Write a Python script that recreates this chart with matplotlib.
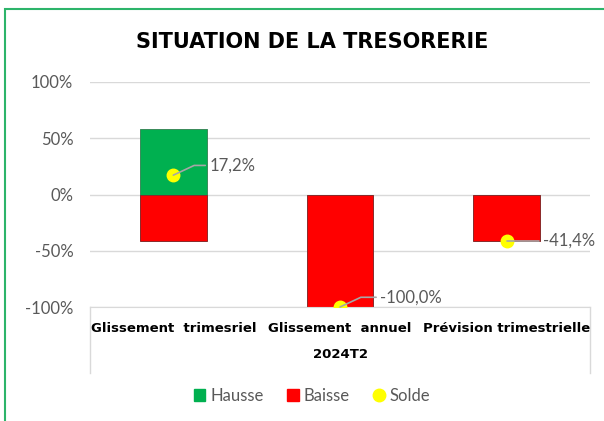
import matplotlib
matplotlib.use("Agg")
import matplotlib.pyplot as plt
from matplotlib.patches import Patch, Rectangle
from matplotlib.lines import Line2D

categories = ["Glissement  trimesriel", "Glissement  annuel", "Prévision trimestrielle"]
group_label = "2024T2"
hausse = [58.6, 0.0, 0.0]
baisse = [-41.4, -100.0, -41.4]
solde = [17.2, -100.0, -41.4]
solde_labels = ["17,2%", "-100,0%", "-41,4%"]
yticks = [-100, -50, 0, 50, 100]

GREEN = "#00B050"
RED = "#FF0000"
YELLOW = "#FFFF00"
GRAY_TXT = "#595959"
GRID = "#D9D9D9"

fig = plt.figure(figsize=(6.04, 4.21), dpi=100)
ax = fig.add_axes([90 / 604, 1 - 307 / 421, 500 / 604, 225 / 421])

x = range(len(categories))
ax.bar(x, hausse, width=0.4, color=GREEN, edgecolor="#3a8a5a", linewidth=0.7, zorder=2)
ax.bar(x, baisse, width=0.4, color=RED, edgecolor="#8a2a2a", linewidth=0.7, zorder=2)
ax.plot(x, solde, linestyle="none", marker="o", markersize=9,
        markerfacecolor=YELLOW, markeredgecolor=YELLOW, zorder=4)

# data labels with leader lines
offsets = [(26, 7), (29, 7), (26, 0)]
for i, (v, lab) in enumerate(zip(solde, solde_labels)):
    dx, dy = offsets[i]
    ax.annotate(lab, xy=(i, v), xytext=(dx, dy), textcoords="offset points",
                ha="left", va="center", fontsize=12, color=GRAY_TXT,
                family="Lato", zorder=5, annotation_clip=False,
                arrowprops=dict(arrowstyle="-", color="#A6A6A6", lw=1.2,
                                relpos=(0, 0.5), shrinkA=1, shrinkB=0,
                                connectionstyle="angle,angleA=0,angleB=25,rad=0"))

ax.set_xlim(-0.5, 2.5)
ax.set_ylim(-100, 100)
ax.set_yticks(yticks)
ax.set_yticklabels([f"{t}%" for t in yticks], fontsize=12, color=GRAY_TXT, family="Lato")
ax.tick_params(axis="y", length=0, pad=12)
ax.tick_params(axis="x", length=0, pad=11)
ax.set_xticks(list(x))
ax.set_xticklabels(categories, fontsize=9.5, fontweight="heavy", color="black")
ax.yaxis.grid(True, color=GRID, linewidth=1, zorder=0)
ax.set_axisbelow(True)
for s in ["top", "left", "right"]:
    ax.spines[s].set_visible(False)
ax.spines["bottom"].set_color(GRID)

# multi-level category box
for xx in (0, 1):
    ax.add_line(Line2D([xx, xx], [0, -66 / 225], transform=ax.transAxes,
                       color=GRID, lw=1, clip_on=False))
ax.text(0.5, -48 / 225, group_label, transform=ax.transAxes, ha="center", va="center",
        fontsize=9.5, fontweight="heavy", color="black")

fig.text(312 / 604, 1 - 42 / 421, "SITUATION DE LA TRESORERIE", ha="center", va="center",
         fontsize=15, fontweight="heavy", color="black")

handles = [Patch(facecolor=GREEN, edgecolor=GREEN, label="Hausse"),
           Patch(facecolor=RED, edgecolor=RED, label="Baisse"),
           Line2D([], [], linestyle="none", marker="o", markersize=9,
                  markerfacecolor=YELLOW, markeredgecolor=YELLOW, label="Solde")]
fig.legend(handles=handles, loc="center", bbox_to_anchor=(312 / 604, 1 - 396 / 421),
           ncol=3, frameon=False, prop={"family": "Lato", "size": 12},
           labelcolor=GRAY_TXT, handlelength=0.7, handleheight=0.7,
           handletextpad=0.3, columnspacing=1.4)

fig.patches.append(Rectangle((5 / 604, -0.1), 1.2, 1.1 - 9 / 421, transform=fig.transFigure,
                             fill=False, edgecolor="#2DB46A", linewidth=1.5))

fig.savefig("out.png", dpi=100)
